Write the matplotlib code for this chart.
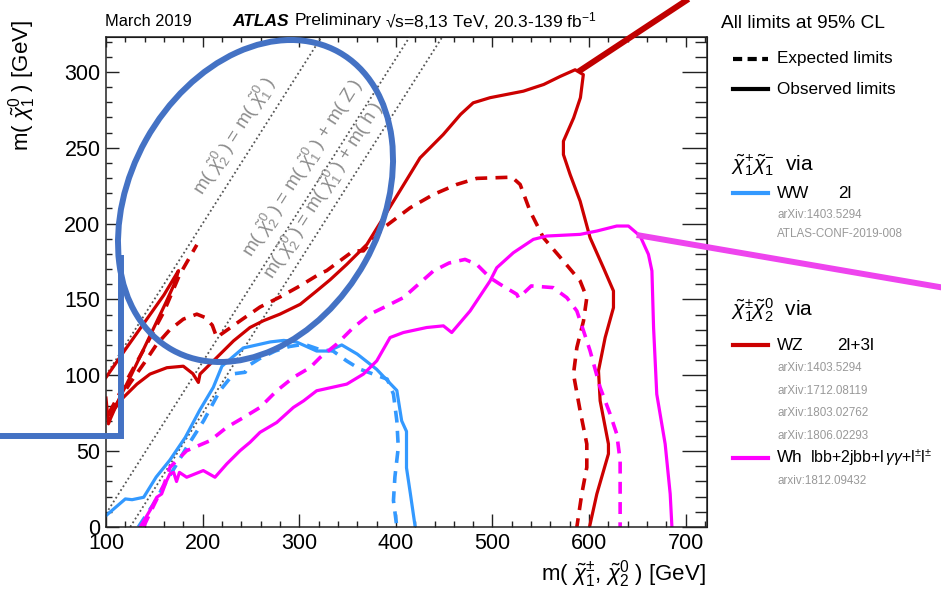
import matplotlib
matplotlib.use("Agg")
import matplotlib.pyplot as plt
from matplotlib.patches import Ellipse
import numpy as np

plt.rcParams['font.family'] = ['Liberation Sans', 'DejaVu Sans']
plt.rcParams['mathtext.fontset'] = 'custom'
plt.rcParams['mathtext.rm'] = 'Liberation Sans'
plt.rcParams['mathtext.it'] = 'Liberation Sans:italic'
plt.rcParams['mathtext.bf'] = 'Liberation Sans:bold'

# ---------------- exclusion contours (GeV) ----------------
# WW (2l) chargino-pair production
ww_obs_x = [100, 120, 127, 139, 152, 166, 182, 197, 211, 220, 242, 270, 284, 297, 318, 330, 344, 360, 380, 401, 406, 411, 411, 415, 420]
ww_obs_y = [7.5, 18.5, 18, 19.6, 33, 44, 59, 77, 92, 106, 118, 122, 123, 122, 116, 116, 120, 114, 104, 90, 70, 63, 39, 22, 0]
ww_exp_x = [133.5, 149, 163, 183.5, 201, 218, 232, 244, 249, 259, 275, 290, 305, 321, 335, 349, 363, 380, 391, 397.5, 401, 402.5, 399, 397.5, 401]
ww_exp_y = [0, 15, 30.6, 52.5, 70, 90, 101, 102, 107, 111, 116, 119, 120.5, 117, 116, 109.5, 104, 100, 97.5, 87.6, 70, 52.5, 33, 17.4, 0]

# WZ (2l+3l)
wz_obs_x = [100, 120, 140, 160, 175,
            172, 162, 150, 138, 126, 114, 105, 102.5, 100]
wz_obs_y = [98.6, 117, 135, 153, 169,
            162, 148, 132, 116, 100, 85, 72, 68, 85]
wz_obs2_x = [104, 118, 132, 145.5, 163, 180, 190, 195.6, 197.3, 214.6, 232, 249, 263, 280, 301, 318, 332, 349, 370, 387, 404, 425,
             449, 467, 480, 497.5, 532, 553, 570, 585.5, 594,
             591, 584, 573.4, 573.4, 580.3, 590.7, 601, 614.8, 625.2, 625.2, 616.6, 609.7, 611.4, 620, 620, 608, 600.4]
wz_obs2_y = [74, 85.4, 94.2, 100.8, 105, 106, 101, 95.3, 100.8, 111.7, 122.7, 131.5, 136, 140.3, 146.8, 155.6, 163, 173, 186.3, 203.8, 221.4, 243.3,
             258.7, 272, 279.6, 283, 287.3, 291.7, 297, 301.4, 298.2,
             283, 269.7, 254.3, 245.5, 232.4, 214.8, 190.7, 170.9, 155.6, 144.6, 124.9, 103, 83.2, 54.7, 48.2, 21.8, 0]
wz_exp_x = [103, 120, 140, 160, 176, 185, 194]
wz_exp_y = [75, 95, 118, 142, 166, 176, 186]
wz_exp2_x = [110, 125, 139, 152, 166, 180, 194, 203, 210, 214.6, 239, 259.4, 280, 301, 321.5, 328.4, 356, 366.4, 387.2, 414.7, 438.9, 463, 483.7, 520.2, 528.6,
             538.9, 552.7, 573.4, 590.7, 597.6, 594.2, 587.3, 583.8, 590.7, 597.6, 597.6, 592.4, 587.3]
wz_exp2_y = [80, 95, 107.6, 120, 130, 137, 140.3, 138, 133, 125, 136, 145, 151.6, 159, 167, 169, 182, 182, 197.2, 210.4, 219.2, 225.8, 229.8, 230.6, 225.8,
             208.2, 190.7, 175.3, 162.2, 151.2, 135.9, 118.3, 100.8, 76.6, 54.7, 39.3, 21.8, 0]

# Wh (lbb+2jbb+l yy+l+-l+-)
wh_obs_x = [135.4, 145.5, 152.5, 157.6, 162.8, 166.1, 170, 173, 176, 183.5, 200.7, 212.8, 225, 238.7, 249, 259.4, 276.7, 293.9, 304.6, 318, 349.2, 366.4, 380.2,
            394, 407.8, 431.9, 449.2, 457.8, 476.8, 497.5, 504.4, 521.6, 542.3, 556.1, 590.7, 608, 628.6, 640.7, 652.8, 661.4, 665, 666.7, 670, 678.7, 683.9, 685.7]
wh_obs_y = [0, 10.9, 19.6, 21.8, 30.6, 35, 36, 30, 36, 32.8, 37.2, 32.8, 41.6, 50.3, 55.8, 62.4, 68.9, 78.8, 83.2, 89.8, 94.2, 100.8, 109.5,
            124.9, 128.2, 131.5, 132.6, 128.2, 142.4, 162.2, 170.9, 180.8, 189.6, 191.8, 192.9, 195.1, 198.4, 198.4, 191.8, 179.7, 168.8, 131.5, 87.6, 54.7, 21.8, 0]
wh_exp_x = [138.7, 150, 160, 166.3, 183.5, 207.7, 225, 242.4, 259.4, 276.7, 293.9, 311.2, 321.5, 338.7, 356, 373.3, 390.6, 407.8, 438.9, 455, 471.6, 483.7,
            497.5, 507.9, 525.2, 527, 540.1, 562.8, 576.9, 587.3, 594.2, 601, 611.4, 621.7, 628.6, 632.1, 632.1, 632.1]
wh_exp_y = [0, 15, 28, 39.4, 50.3, 56.9, 65.7, 72.2, 78.8, 89.8, 98.6, 105.1, 111.7, 120.5, 131.5, 140.3, 145.7, 151.2, 168.8, 174, 176.4, 173.1,
            164.3, 160, 153.4, 151, 158.9, 157.8, 151.2, 142.4, 129.3, 116.1, 92, 74.5, 61.3, 43.8, 21.8, 0]

# kinematic boundaries: m(chi2) = m(chi1) + offset
mass_offsets = [0, 91.2, 125]
boundary_labels = [r'm( $\tilde{\chi}^{0}_{2}$ ) = m( $\tilde{\chi}^{0}_{1}$ )',
                   r'm( $\tilde{\chi}^{0}_{2}$ ) = m( $\tilde{\chi}^{0}_{1}$ ) + m( Z )',
                   r'm( $\tilde{\chi}^{0}_{2}$ ) = m( $\tilde{\chi}^{0}_{1}$ ) + m( h )']
boundary_label_pos = [(233, 258), (304, 237), (325, 222)]

x_range = (100, 722)
y_range = (0, 323)

RED = '#CC0000'
BLUE = '#3399FF'
MAG = '#FF00FF'

W, H = 941, 590
fig = plt.figure(figsize=(W / 100, H / 100), dpi=100)
ax = fig.add_axes([106 / W, 1 - 527 / H, (707 - 106) / W, (527 - 37) / H])
ax.set_xlim(*x_range)
ax.set_ylim(*y_range)

lw = 2.3
dash = (0, (3.3, 2.3))

ax.plot(ww_obs_x, ww_obs_y, color=BLUE, lw=lw, solid_joinstyle='round')
ax.plot(ww_exp_x, ww_exp_y, color=BLUE, lw=lw + 0.3, linestyle=dash)
ax.plot(wz_obs_x, wz_obs_y, color=RED, lw=lw)
ax.plot(wz_obs2_x, wz_obs2_y, color=RED, lw=lw)
ax.plot(wz_exp_x, wz_exp_y, color=RED, lw=lw + 0.3, linestyle=dash)
ax.plot(wz_exp2_x, wz_exp2_y, color=RED, lw=lw + 0.3, linestyle=dash)
ax.plot(wh_obs_x, wh_obs_y, color=MAG, lw=lw)
ax.plot(wh_exp_x, wh_exp_y, color=MAG, lw=lw + 0.3, linestyle=dash)

xs = np.array(x_range, dtype=float)
for off in mass_offsets:
    ax.plot(xs, xs - off, color='#555555', lw=1.3, linestyle=(0, (1, 1.5)), zorder=1)

# text angle along the diagonals in display space
p0 = ax.transData.transform((200, 100))
p1 = ax.transData.transform((300, 200))
ang = np.degrees(np.arctan2(p1[1] - p0[1], p1[0] - p0[0]))
for lab, (lx, ly) in zip(boundary_labels, boundary_label_pos):
    ax.text(lx, ly, lab, rotation=ang, rotation_mode='anchor', ha='center', va='center',
            fontsize=13.5, color='#8c8c8c')

# axes styling
ax.set_xticks(np.arange(100, 701, 100))
ax.set_xticks(np.arange(100, 721, 20), minor=True)
ax.set_yticks(np.arange(0, 301, 50))
ax.set_yticks(np.arange(0, 321, 10), minor=True)
ax.tick_params(which='both', direction='in', labelsize=15.5, width=1.0, colors='#222222',
               labelcolor='black', top=False, right=False)
ax.tick_params(which='major', length=9.5, pad=4)
ax.tick_params(which='minor', length=4.5)
for s in ax.spines.values():
    s.set_linewidth(1.1)
    s.set_color('#222222')

sec_x = ax.secondary_xaxis('top')
sec_x.set_xticks(np.arange(100, 701, 100))
sec_x.set_xticks(np.arange(100, 721, 20), minor=True)
sec_x.tick_params(which='both', direction='in', labeltop=False, width=1.0, colors='#222222')
sec_x.tick_params(which='major', length=7.5)
sec_x.tick_params(which='minor', length=3.8)
sec_y = ax.secondary_yaxis('right')
sec_y.set_yticks(np.arange(0, 301, 50))
sec_y.set_yticks(np.arange(0, 321, 10), minor=True)
sec_y.tick_params(which='both', direction='in', labelright=False, width=1.0, colors='#222222')
sec_y.tick_params(which='major', length=18)
sec_y.tick_params(which='minor', length=9)

# axis titles
fig.text(706 / W, 1 - 574 / H, r'm( $\tilde{\chi}^{\pm}_{1}$, $\tilde{\chi}^{0}_{2}$ ) [GeV]',
         ha='right', va='center', fontsize=16)
fig.text(22 / W, 1 - 20 / H, r'm( $\tilde{\chi}^{0}_{1}$ ) [GeV]', rotation=90,
         ha='center', va='top', fontsize=16)

# header
fig.text(105 / W, 1 - 21 / H, 'March 2019', ha='left', va='center', fontsize=11.8)
fig.text(232 / W, 1 - 21 / H, 'ATLAS', ha='left', va='center', fontsize=12.5,
         fontweight='bold', fontstyle='italic')
fig.text(295 / W, 1 - 21 / H, 'Preliminary', ha='left', va='center', fontsize=12.5)
fig.text(385 / W, 1 - 21 / H, '\u221as=8,13 TeV, 20.3-139 fb$^{-1}$', ha='left', va='center', fontsize=12.5)

# legend block
fig.text(721 / W, 1 - 23 / H, 'All limits at 95% CL', ha='left', va='center', fontsize=13.8)
leg_x0, leg_x1, leg_tx = 733 / W, 768 / W, 777 / W


def leg_line(y, color, ls='-'):
    fig.add_artist(plt.Line2D([leg_x0, leg_x1], [1 - y / H] * 2, color=color, lw=3,
                              linestyle=ls, transform=fig.transFigure))


leg_line(59, 'black', (0, (2.2, 1.3)))
fig.text(leg_tx, 1 - 59 / H, 'Expected limits', ha='left', va='center', fontsize=12.3)
leg_line(89, 'black')
fig.text(leg_tx, 1 - 89 / H, 'Observed limits', ha='left', va='center', fontsize=12.3)

fig.text(731 / W, 1 - 165 / H, r'$\tilde{\chi}^{+}_{1}\tilde{\chi}^{-}_{1}$  via', ha='left',
         va='center', fontsize=15)
leg_line(193, BLUE)
fig.text(leg_tx, 1 - 193 / H, 'WW', ha='left', va='center', fontsize=12.3)
fig.text(838 / W, 1 - 193 / H, '2l', ha='left', va='center', fontsize=12.3)
fig.text(leg_tx, 1 - 215 / H, 'arXiv:1403.5294', ha='left', va='center', fontsize=8.4, color='#999999')
fig.text(leg_tx, 1 - 234 / H, 'ATLAS-CONF-2019-008', ha='left', va='center', fontsize=8.4, color='#999999')

fig.text(731 / W, 1 - 310 / H, r'$\tilde{\chi}^{\pm}_{1}\tilde{\chi}^{0}_{2}$  via', ha='left',
         va='center', fontsize=15)
leg_line(345, RED)
fig.text(leg_tx, 1 - 345 / H, 'WZ', ha='left', va='center', fontsize=12.3)
fig.text(837 / W, 1 - 345 / H, '2l+3l', ha='left', va='center', fontsize=12.3)
for yy, ref in zip([368, 391, 413, 436],
                   ['arXiv:1403.5294', 'arXiv:1712.08119', 'arXiv:1803.02762', 'arXiv:1806.02293']):
    fig.text(leg_tx, 1 - yy / H, ref, ha='left', va='center', fontsize=8.4, color='#999999')
leg_line(458, MAG)
fig.text(leg_tx, 1 - 458 / H, 'Wh', ha='left', va='center', fontsize=12.3)
fig.text(810 / W, 1 - 458 / H, r'lbb+2jbb+l$\,\gamma\gamma$+l$^{\pm}$l$^{\pm}$', ha='left',
         va='center', fontsize=11.4)
fig.text(leg_tx, 1 - 481 / H, 'arxiv:1812.09432', ha='left', va='center', fontsize=8.4, color='#999999')

# highlight overlay drawn in pixel space
ov = fig.add_axes([0, 0, 1, 1], zorder=10)
ov.set_xlim(0, W)
ov.set_ylim(H, 0)
ov.axis('off')
ov.patch.set_alpha(0)
ov.add_patch(Ellipse((255.5, 201), width=2 * 170.6, height=2 * 125.4, angle=-60.8,
                     fill=False, ec='#4472C4', lw=4.3))
ov.plot([121, 121, 0], [255, 436, 436], color='#4472C4', lw=4.3, solid_capstyle='butt',
        solid_joinstyle='miter')
ov.plot([578.3, 690], [71.7, -2], color='#C00000', lw=4.3, solid_capstyle='butt')
ov.plot([636.7, 945], [235, 288], color='#EE44EE', lw=4.3, solid_capstyle='butt')

fig.savefig('out.png', dpi=100)
